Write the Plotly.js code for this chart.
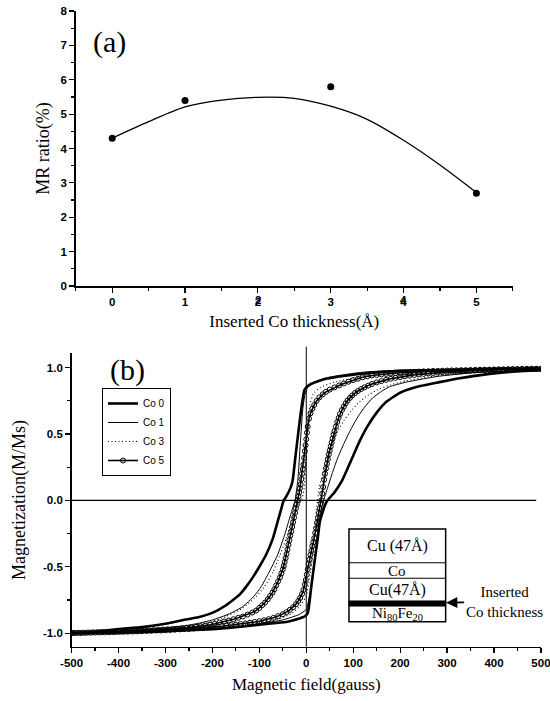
<!DOCTYPE html>
<html>
<head>
<meta charset="utf-8">
<script src="https://cdn.plot.ly/plotly-3.0.1.min.js"></script>
<style>html,body{margin:0;padding:0;background:#fff}</style>
</head>
<body>
<div id="chart" style="width:550px;height:701px"></div>
<script>
// ---------- (a) MR ratio versus inserted Co thickness ----------
const thickness = [0, 1, 3, 5];
const mrRatio = [4.3, 5.4, 5.8, 2.7];
// smooth fitted trend through the measured points
const fitThickness = [0, 0.5, 1, 1.5, 2, 2.5, 3, 3.5, 4, 4.5, 5];
const fitRatio = [4.30, 4.78, 5.21, 5.41, 5.49, 5.46, 5.23, 4.85, 4.24, 3.52, 2.72];
const thicknessTicks = [0, 1, 2, 3, 4, 5];
const thicknessTickLabels = ['0', '1', '2', '3', '4', '5'];
const thicknessHalfTicks = [-0.5, 0.5, 1.5, 2.5, 3.5, 4.5, 5.5];

// ---------- (b) hysteresis loops M/Ms versus field (gauss) ----------
// each loop: decreasing-field branch, then increasing-field branch
const co0DownH = [500, 426, 350, 300, 200, 124, 67, 31.5, 6.6, 0, -4, -11, -18, -24, -29, -34, -43, -48, -53, -61, -71.5, -85.7, -100, -114, -128, -142, -156, -171, -190, -206, -230, -260, -300, -350, -400, -455, -500];
const co0DownM = [0.995, 0.99, 0.985, 0.98, 0.975, 0.955, 0.93, 0.905, 0.87, 0.85, 0.83, 0.68, 0.48, 0.30, 0.15, 0.09, 0.027, 0.0, -0.06, -0.16, -0.29, -0.41, -0.5, -0.58, -0.65, -0.71, -0.75, -0.79, -0.83, -0.855, -0.88, -0.9, -0.93, -0.955, -0.97, -0.99, -1.0];
const co0UpH = [-500, -400, -300, -200, -150, -110, -70, -40, -15, -4, 3, 10, 17, 24, 29, 35, 42, 49, 60, 75, 93, 113, 131, 150, 170, 200, 243, 284, 320, 355, 426, 500];
const co0UpM = [-1.0, -0.995, -0.985, -0.97, -0.955, -0.94, -0.925, -0.914, -0.89, -0.876, -0.85, -0.67, -0.48, -0.30, -0.16, -0.086, -0.02, 0.015, 0.06, 0.14, 0.28, 0.44, 0.56, 0.66, 0.74, 0.81, 0.86, 0.89, 0.915, 0.935, 0.965, 0.98];

const co1DownH = [500, 400, 300, 200, 124, 88, 46, 17, 3, -2.6, -7.6, -12.6, -18, -24, -30, -36, -47, -61, -79, -96, -111, -135, -164, -199, -228, -260, -300, -350, -400, -450, -500];
const co1DownM = [0.995, 0.99, 0.985, 0.98, 0.966, 0.95, 0.925, 0.89, 0.85, 0.8, 0.68, 0.43, 0.15, 0.0, -0.07, -0.14, -0.27, -0.41, -0.54, -0.65, -0.72, -0.8, -0.855, -0.9, -0.925, -0.945, -0.96, -0.975, -0.985, -0.995, -1.0];
const co1UpH = [-500, -400, -300, -200, -150, -100, -50, -15, 0, 7, 14, 21, 28, 33, 37, 45, 55, 66, 78, 90, 102, 113, 124, 141, 160, 177, 213, 250, 284, 355, 426, 500];
const co1UpM = [-1.0, -0.99, -0.985, -0.97, -0.955, -0.93, -0.9, -0.86, -0.82, -0.72, -0.54, -0.34, -0.14, -0.05, 0.0, 0.09, 0.2, 0.31, 0.41, 0.5, 0.58, 0.645, 0.7, 0.77, 0.82, 0.855, 0.89, 0.915, 0.935, 0.96, 0.975, 0.985];

const co3DownH = [500, 400, 300, 200, 150, 100, 60, 30, 15, 8, 4, 1, -2, -5, -10, -22, -32, -43, -57, -71, -89, -111, -135, -171, -214, -260, -300, -350, -400, -450, -500];
const co3DownM = [0.99, 0.985, 0.975, 0.96, 0.945, 0.92, 0.89, 0.85, 0.8, 0.72, 0.62, 0.45, 0.22, 0.08, 0.0, -0.05, -0.16, -0.29, -0.42, -0.54, -0.65, -0.74, -0.81, -0.875, -0.925, -0.95, -0.965, -0.978, -0.988, -0.995, -1.0];
const co3UpH = [-500, -400, -300, -200, -150, -100, -60, -30, -15, 0, 7, 14, 17, 21, 24, 28, 35, 45, 55, 67, 80, 95, 110, 127, 150, 180, 213, 260, 300, 350, 400, 450, 500];
const co3UpM = [-1.0, -0.99, -0.98, -0.96, -0.945, -0.92, -0.895, -0.85, -0.8, -0.72, -0.59, -0.41, -0.26, -0.09, 0.0, 0.1, 0.2, 0.33, 0.43, 0.52, 0.6, 0.67, 0.73, 0.78, 0.83, 0.87, 0.9, 0.93, 0.945, 0.96, 0.975, 0.985, 0.99];

const co5DownH = [500, 490, 480, 470, 460, 450, 440, 430, 420, 410, 400, 390, 380, 370, 360, 350, 340, 330, 320, 310, 300, 290, 280, 270, 260, 250, 240, 230, 220, 210, 200, 190, 180, 170, 160, 150, 140, 130, 120, 110, 100, 90, 80, 70, 60, 50, 42, 35, 28, 22, 17, 13, 9, 6, 3, 1.5, 0, -1.5, -3, -4.5, -6, -7.5, -9, -10.5, -12, -13.5, -15, -16.5, -18, -20, -22, -24, -26, -28, -30, -32, -34, -36, -38, -40, -42, -44, -46, -48, -50, -53, -56, -60, -64, -68, -72, -77, -82, -88, -94, -100, -107, -115, -125, -135, -145, -155, -165, -175, -185, -195, -205, -215, -225, -235, -245, -255, -265, -275, -285, -295, -305, -315, -325, -335, -345, -355, -365, -375, -385, -395, -405, -415, -425, -435, -445, -455, -465, -475, -485, -495, -500];
const co5DownM = [0.99, 0.99, 0.99, 0.99, 0.989, 0.988, 0.988, 0.987, 0.986, 0.986, 0.985, 0.984, 0.984, 0.983, 0.982, 0.981, 0.98, 0.98, 0.979, 0.978, 0.977, 0.976, 0.975, 0.974, 0.972, 0.971, 0.969, 0.967, 0.965, 0.963, 0.96, 0.958, 0.955, 0.952, 0.948, 0.944, 0.94, 0.934, 0.926, 0.915, 0.905, 0.893, 0.88, 0.865, 0.85, 0.834, 0.817, 0.798, 0.775, 0.748, 0.718, 0.69, 0.655, 0.615, 0.555, 0.51, 0.46, 0.415, 0.37, 0.32, 0.27, 0.235, 0.2, 0.16, 0.12, 0.09, 0.06, 0.03, 0.0, -0.03, -0.06, -0.095, -0.13, -0.165, -0.2, -0.235, -0.265, -0.3, -0.335, -0.37, -0.405, -0.435, -0.465, -0.495, -0.52, -0.55, -0.58, -0.61, -0.64, -0.67, -0.695, -0.72, -0.745, -0.77, -0.79, -0.81, -0.83, -0.845, -0.86, -0.875, -0.885, -0.895, -0.905, -0.912, -0.92, -0.93, -0.937, -0.943, -0.948, -0.952, -0.956, -0.96, -0.963, -0.966, -0.969, -0.971, -0.973, -0.975, -0.977, -0.979, -0.98, -0.982, -0.984, -0.985, -0.987, -0.988, -0.989, -0.99, -0.991, -0.992, -0.993, -0.994, -0.995, -0.996, -0.997, -0.998, -0.998];
const co5UpH = [-500, -490, -480, -470, -460, -450, -440, -430, -420, -410, -400, -390, -380, -370, -360, -350, -340, -330, -320, -310, -300, -290, -280, -270, -260, -250, -240, -230, -220, -210, -200, -190, -180, -170, -160, -150, -140, -130, -120, -110, -100, -90, -80, -70, -60, -50, -42, -35, -28, -22, -17, -13, -9, -6, -3, -1, 1, 3, 5, 7, 9, 11, 13, 15, 17, 19, 21, 23, 25, 27, 29, 31, 32.5, 34, 36, 38, 40, 42, 44, 46, 48, 50, 52, 54, 56, 58, 60, 63, 66, 69, 72, 76, 80, 84, 88, 93, 98, 104, 110, 117, 124, 132, 140, 150, 160, 170, 180, 190, 200, 210, 220, 230, 240, 250, 260, 270, 280, 290, 300, 310, 320, 330, 340, 350, 360, 370, 380, 390, 400, 410, 420, 430, 440, 450, 460, 470, 480, 490, 500];
const co5UpM = [-1.0, -1.0, -0.999, -0.998, -0.997, -0.996, -0.995, -0.994, -0.993, -0.992, -0.991, -0.99, -0.989, -0.988, -0.987, -0.985, -0.984, -0.983, -0.981, -0.98, -0.978, -0.976, -0.974, -0.972, -0.97, -0.968, -0.965, -0.962, -0.96, -0.957, -0.954, -0.951, -0.948, -0.944, -0.94, -0.936, -0.932, -0.927, -0.922, -0.916, -0.91, -0.903, -0.895, -0.885, -0.872, -0.858, -0.842, -0.825, -0.805, -0.782, -0.758, -0.735, -0.705, -0.675, -0.635, -0.6, -0.56, -0.52, -0.48, -0.445, -0.41, -0.38, -0.345, -0.315, -0.285, -0.245, -0.21, -0.17, -0.13, -0.095, -0.06, -0.025, 0.0, 0.05, 0.1, 0.155, 0.2, 0.24, 0.275, 0.31, 0.345, 0.375, 0.405, 0.435, 0.465, 0.495, 0.52, 0.555, 0.59, 0.62, 0.65, 0.68, 0.705, 0.73, 0.752, 0.772, 0.79, 0.808, 0.823, 0.838, 0.851, 0.864, 0.876, 0.888, 0.898, 0.907, 0.915, 0.922, 0.928, 0.934, 0.939, 0.944, 0.948, 0.952, 0.956, 0.959, 0.962, 0.965, 0.967, 0.969, 0.971, 0.973, 0.975, 0.977, 0.978, 0.979, 0.98, 0.981, 0.982, 0.983, 0.984, 0.985, 0.986, 0.987, 0.988, 0.989, 0.99, 0.99, 0.99];

const fieldTicks = [-500, -400, -300, -200, -100, 0, 100, 200, 300, 400, 500];
const fieldTickLabels = ['-500', '-400', '-300', '-200', '-100', '0', '100', '200', '300', '400', '500'];
const magTicks = [-1, -0.5, 0, 0.5, 1];
const magTickLabels = ['-1.0', '-0.5', '0.0', '0.5', '1.0'];

// layer stack drawn as an inset (field / magnetization coordinates)
const stackLabels = ['Cu (47Å)', 'Co', 'Cu(47Å)', 'Ni<sub>80</sub>Fe<sub>20</sub>'];

const SERIF = '"Liberation Serif", "Times New Roman", serif';
const SANS = '"Liberation Sans", Arial, sans-serif';
const tickFont = {family: SANS, size: 11.5, color: '#000', weight: 'bold'};

function loop(name, downH, downM, upH, upM, style) {
  return Object.assign({
    type: 'scatter',
    name: name,
    x: downH.concat(upH),
    y: downM.concat(upM),
    xaxis: 'x2', yaxis: 'y2',
    hoverinfo: 'skip'
  }, style);
}

const traces = [
  {type: 'scatter', mode: 'lines', x: fitThickness, y: fitRatio,
   line: {color: '#000', width: 1.3, shape: 'spline', smoothing: 0.8},
   showlegend: false, xaxis: 'x', yaxis: 'y', hoverinfo: 'skip'},
  {type: 'scatter', mode: 'markers', x: thickness, y: mrRatio,
   marker: {color: '#000', size: 7}, showlegend: false, xaxis: 'x', yaxis: 'y'},
  loop('Co 0', co0DownH, co0DownM, co0UpH, co0UpM,
       {mode: 'lines', line: {color: '#000', width: 2.6, shape: 'spline', smoothing: 0.5}}),
  loop('Co 1', co1DownH, co1DownM, co1UpH, co1UpM,
       {mode: 'lines', line: {color: '#000', width: 1, shape: 'spline', smoothing: 0.5}}),
  loop('Co 3', co3DownH, co3DownM, co3UpH, co3UpM,
       {mode: 'lines', line: {color: '#000', width: 1.1, dash: '1px,2.5px', shape: 'spline', smoothing: 0.5}}),
  loop('Co 5', co5DownH, co5DownM, co5UpH, co5UpM,
       {mode: 'lines+markers', line: {color: '#000', width: 1.6},
        marker: {symbol: 'circle-open', size: 5, color: '#000', line: {width: 1, color: '#000'}}})
];

// inset boxes: outline, layer separators, inserted Co band
const stackX0 = 91, stackX1 = 297;
const stackEdges = [-0.216, -0.470, -0.587, -0.758, -0.796, -0.914];
const shapes = [
  // vertical reference line at zero field (rises slightly above the frame)
  {type: 'line', xref: 'x2', yref: 'paper', x0: 0, x1: 0, y0: 0.0775, y1: 0.5054,
   line: {color: '#000', width: 1}},
  // horizontal reference line at zero magnetization
  {type: 'line', xref: 'x2', yref: 'y2', x0: -500, x1: 490, y0: 0, y1: 0,
   line: {color: '#000', width: 1.2}},
  {type: 'rect', xref: 'x2', yref: 'y2', x0: stackX0, x1: stackX1,
   y0: stackEdges[5], y1: stackEdges[0], fillcolor: '#fff',
   line: {color: '#000', width: 1.5}, layer: 'above'},
  {type: 'line', xref: 'x2', yref: 'y2', x0: stackX0, x1: stackX1,
   y0: stackEdges[1], y1: stackEdges[1], line: {color: '#000', width: 1.2}, layer: 'above'},
  {type: 'line', xref: 'x2', yref: 'y2', x0: stackX0, x1: stackX1,
   y0: stackEdges[2], y1: stackEdges[2], line: {color: '#000', width: 1.2}, layer: 'above'},
  {type: 'rect', xref: 'x2', yref: 'y2', x0: stackX0, x1: stackX1,
   y0: stackEdges[4], y1: stackEdges[3], fillcolor: '#000',
   line: {color: '#000', width: 1}, layer: 'above'}
];

function mid(a, b) { return (a + b) / 2; }
const stackCx = mid(stackX0, stackX1);
const annotations = [
  {text: '(a)', xref: 'paper', yref: 'paper', x: 0.199, y: 0.940, xanchor: 'center', yanchor: 'middle',
   showarrow: false, font: {family: SERIF, size: 30, color: '#000'}},
  {text: '(b)', xref: 'paper', yref: 'paper', x: 0.2327, y: 0.4722, xanchor: 'center', yanchor: 'middle',
   showarrow: false, font: {family: SERIF, size: 30, color: '#000'}},
  {text: stackLabels[0], xref: 'x2', yref: 'y2', x: stackCx, y: mid(stackEdges[0], stackEdges[1]),
   showarrow: false, font: {family: SERIF, size: 16, color: '#000'}},
  {text: stackLabels[1], xref: 'x2', yref: 'y2', x: stackCx, y: mid(stackEdges[1], stackEdges[2]),
   showarrow: false, font: {family: SERIF, size: 15, color: '#000'}},
  {text: stackLabels[2], xref: 'x2', yref: 'y2', x: stackCx, y: mid(stackEdges[2], stackEdges[3]),
   showarrow: false, font: {family: SERIF, size: 16, color: '#000'}},
  {text: stackLabels[3], xref: 'x2', yref: 'y2', x: stackCx, y: mid(stackEdges[4], stackEdges[5]),
   showarrow: false, font: {family: SERIF, size: 15, color: '#000'}},
  // label with an arrow pointing at the inserted Co band
  {text: 'Inserted<br>Co thickness', xref: 'x2', yref: 'y2', x: stackX1 + 1, y: -0.771,
   ax: 58, ay: -1, showarrow: true, arrowhead: 2, arrowsize: 1.4, arrowwidth: 1.6,
   arrowcolor: '#000', font: {family: SERIF, size: 15, color: '#000'}}
];
// thickness labels 2 and 4 placed directly under their ticks
[2, 4].forEach(function (i) {
  annotations.push({text: thicknessTickLabels[i], xref: 'x', yref: 'paper',
    x: thicknessTicks[i], y: 1 - 300 / 701, xanchor: 'center', yanchor: 'middle',
    showarrow: false, font: tickFont});
});

const baseAxis = {
  showline: true, linecolor: '#000', linewidth: 1.5, showgrid: false, zeroline: false,
  ticks: 'outside', ticklen: 5, tickwidth: 1.2, tickcolor: '#000', tickfont: tickFont,
  ticklabeloverflow: 'allow', fixedrange: true
};

const layout = {
  width: 550, height: 701,
  margin: {l: 0, r: 0, t: 0, b: 0},
  paper_bgcolor: '#fff', plot_bgcolor: '#fff',
  showlegend: true,
  legend: {x: 0.1855, y: 0.4465, xanchor: 'left', yanchor: 'top',
           bgcolor: '#fff', bordercolor: '#000', borderwidth: 1,
           font: {family: SANS, size: 10, color: '#000'}},
  xaxis: Object.assign({}, baseAxis, {
    domain: [0.1378, 0.9324], anchor: 'y', range: [-0.5, 5.5],
    tickmode: 'array', tickvals: thicknessTicks, ticktext: thicknessTickLabels,
    minor: {tickmode: 'array', tickvals: thicknessHalfTicks, ticks: 'outside', ticklen: 3, tickcolor: '#000'},
    title: {text: 'Inserted Co thickness(Å)', standoff: 8,
            font: {family: SERIF, size: 17, color: '#000'}}
  }),
  yaxis: Object.assign({}, baseAxis, {
    domain: [0.5920, 0.9843], anchor: 'x', range: [0, 8],
    tickmode: 'linear', tick0: 0, dtick: 1,
    minor: {dtick: 0.5, ticks: 'outside', ticklen: 3, tickcolor: '#000'},
    title: {text: 'MR ratio(%)', standoff: 6,
            font: {family: SERIF, size: 18, color: '#000'}}
  }),
  xaxis2: Object.assign({}, baseAxis, {
    domain: [0.1302, 0.9835], anchor: 'y2', range: [-500, 500],
    tickmode: 'array', tickvals: fieldTicks, ticktext: fieldTickLabels,
    minor: {dtick: 50, tick0: 0, ticks: 'outside', ticklen: 3, tickcolor: '#000'},
    title: {text: 'Magnetic field(gauss)', standoff: 10,
            font: {family: SERIF, size: 17, color: '#000'}}
  }),
  yaxis2: Object.assign({}, baseAxis, {
    domain: [0.0775, 0.4960], anchor: 'x2', range: [-1.102, 1.107],
    tickmode: 'array', tickvals: magTicks, ticktext: magTickLabels,
    minor: {dtick: 0.25, tick0: 0, ticks: 'outside', ticklen: 3, tickcolor: '#000'},
    title: {text: 'Magnetization(M/Ms)', standoff: 12,
            font: {family: SERIF, size: 18, color: '#000'}}
  }),
  shapes: shapes,
  annotations: annotations
};

Plotly.newPlot('chart', traces, layout, {displayModeBar: false, staticPlot: true});
</script>
</body>
</html>
